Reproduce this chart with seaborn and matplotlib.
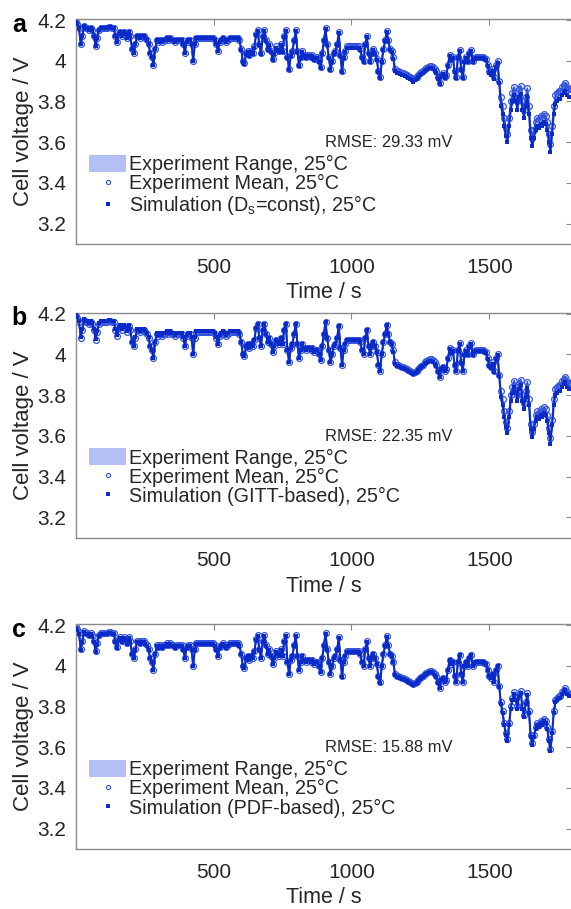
import numpy as np
import pandas as pd
import matplotlib
matplotlib.use("Agg")
import matplotlib.pyplot as plt
from matplotlib.patches import Patch
from matplotlib.lines import Line2D
import seaborn as sns

# ---- data -------------------------------------------------------------
# sample times (s), one sample every 6 s
time_s = list(range(0, 1801, 6))

# mean measured cell voltage (V) at each sample time
v_mean = [
    4.19, 4.18, 4.16, 4.08, 4.12, 4.17, 4.16, 4.16, 4.15, 4.16,   # 0-54
    4.15, 4.12, 4.07, 4.11, 4.15, 4.16, 4.16, 4.16, 4.16, 4.16,   # 60-114
    4.165, 4.165, 4.16, 4.16, 4.12, 4.09, 4.13, 4.14, 4.12, 4.14, # 120-174
    4.13, 4.11, 4.14, 4.12, 4.06, 4.04, 4.08, 4.12, 4.12, 4.11,   # 180-234
    4.12, 4.12, 4.11, 4.10, 4.08, 4.04, 4.02, 3.98, 4.06, 4.10,   # 240-294
    4.09, 4.10, 4.09, 4.10, 4.10, 4.11, 4.10, 4.11, 4.10, 4.10,   # 300-354
    4.09, 4.10, 4.10, 4.10, 4.10, 4.08, 4.04, 4.09, 4.10, 4.10,   # 360-414
    4.08, 4.00, 4.08, 4.11, 4.11, 4.11, 4.11, 4.11, 4.11, 4.11,   # 420-474
    4.11, 4.11, 4.11, 4.11, 4.10, 4.08, 4.05, 4.09, 4.10, 4.11,   # 480-534
    4.10, 4.09, 4.10, 4.11, 4.11, 4.11, 4.11, 4.11, 4.11, 4.10,   # 540-594
    4.06, 4.00, 3.99, 4.04, 4.05, 4.03, 4.05, 4.04, 4.07, 4.13,   # 600-654
    4.15, 4.08, 4.04, 4.12, 4.15, 4.10, 4.06, 4.08, 4.05, 4.01,   # 660-714
    4.04, 4.07, 4.06, 4.05, 4.08, 4.05, 4.12, 4.15, 4.02, 3.96,   # 720-774
    4.03, 4.05, 4.10, 4.15, 4.05, 3.98, 4.02, 4.05, 4.03, 4.02,   # 780-834
    4.03, 4.03, 4.02, 4.03, 4.01, 4.02, 4.02, 4.00, 3.97, 4.04,   # 840-894
    4.10, 4.16, 4.08, 4.02, 3.96, 4.00, 4.04, 4.05, 4.08, 4.14,   # 900-954
    4.03, 3.95, 4.02, 4.05, 4.07, 4.07, 4.07, 4.07, 4.07, 4.07,   # 960-1014
    4.07, 4.07, 4.06, 4.02, 4.00, 4.08, 4.12, 4.04, 4.00, 4.04,   # 1020-1074
    4.06, 4.04, 4.01, 3.95, 3.92, 4.00, 4.06, 4.10, 4.145, 4.10,  # 1080-1134
    4.06, 4.05, 4.02, 3.96, 3.95, 3.95, 3.945, 3.94, 3.94, 3.935, # 1140-1194
    3.93, 3.925, 3.92, 3.915, 3.91, 3.915, 3.92, 3.93, 3.94, 3.945, # 1200-1254
    3.95, 3.96, 3.965, 3.97, 3.975, 3.975, 3.97, 3.96, 3.95, 3.92, # 1260-1314
    3.89, 3.93, 3.94, 3.92, 3.93, 3.98, 4.03, 4.01, 4.02, 3.95,   # 1320-1374
    3.92, 4.02, 4.055, 3.96, 3.92, 4.00, 4.02, 4.00, 4.04, 4.055, # 1380-1434
    4.00, 4.015, 4.02, 4.02, 4.02, 4.02, 4.02, 4.015, 4.01, 3.98, # 1440-1494
    3.95, 3.94, 3.96, 3.92, 3.98, 4.00, 3.90, 3.82, 3.78, 3.72,   # 1500-1554
    3.67, 3.64, 3.72, 3.80, 3.84, 3.87, 3.84, 3.80, 3.86, 3.875,  # 1560-1614
    3.80, 3.76, 3.82, 3.865, 3.78, 3.66, 3.62, 3.66, 3.70, 3.72,  # 1620-1674
    3.71, 3.73, 3.72, 3.74, 3.73, 3.70, 3.64, 3.59, 3.68, 3.78,   # 1680-1734
    3.83, 3.84, 3.85, 3.85, 3.87, 3.88, 3.89, 3.87, 3.86, 3.86,   # 1740-1794
    3.86,                                                         # 1800
]

# half-width of the measured spread (V) within each time window
spread_edges = [0, 600, 1150, 1500, 1801]
spread_half = [0.006, 0.008, 0.007, 0.012]

# simulation offset from the measured mean (V) within each time window
dev_edges = [0, 600, 1150, 1320, 1500, 1540, 1801]
sim_offset = {
    "a": [0.000, -0.005, -0.012, -0.005, -0.010, -0.040],
    "b": [0.003, 0.000, -0.008, -0.003, -0.005, -0.028],
    "c": [-0.003, -0.003, -0.004, 0.000, -0.002, -0.010],
}

panel_letters = ["a", "b", "c"]
sim_labels = [
    r"Simulation (D$_\mathregular{s}$=const), 25°C",
    "Simulation (GITT-based), 25°C",
    "Simulation (PDF-based), 25°C",
]
rmse_labels = ["RMSE: 29.33 mV", "RMSE: 22.35 mV", "RMSE: 15.88 mV"]
range_label = "Experiment Range, 25°C"
mean_label = "Experiment Mean, 25°C"

x_ticks = [500, 1000, 1500]
y_ticks = [3.2, 3.4, 3.6, 3.8, 4.0, 4.2]
y_ticklabels = ["3.2", "3.4", "3.6", "3.8", "4", "4.2"]

# ---- styling ----------------------------------------------------------
sns.set_style("white")
plt.rcParams["font.family"] = ["Liberation Sans", "DejaVu Sans"]
plt.rcParams["mathtext.fontset"] = "custom"
plt.rcParams["mathtext.rm"] = "Liberation Sans"

c_range = "#b4bff3"
c_mean = "#3556dc"
c_sim = "#0b2bc8"
c_axis = "#8a8a8a"
c_text = "#262626"

t = np.asarray(time_s, dtype=float)
vm = np.asarray(v_mean, dtype=float)
spread = np.asarray(spread_half)[np.searchsorted(spread_edges, t, side="right") - 1]
seg = np.searchsorted(dev_edges, t, side="right") - 1

fig = plt.figure(figsize=(5.71, 9.09), dpi=100)
W, H = 571.0, 909.0
left, width, height = 76 / W, 496 / W, 225 / H
tops = [19, 312.6, 624]

for i, letter in enumerate(panel_letters):
    ax = fig.add_axes([left, 1 - (tops[i] + 225) / H, width, height])
    vs = vm + np.asarray(sim_offset[letter])[seg]
    df = pd.DataFrame({"t": t, "mean": vm, "sim": vs})

    ax.fill_between(df["t"], df["mean"] - spread, df["mean"] + spread,
                    color=c_range, lw=0, zorder=1)
    sns.lineplot(data=df, x="t", y="mean", ax=ax, color=c_mean, lw=1.3,
                 marker="o", markersize=4.2, markerfacecolor="none",
                 markeredgecolor=c_mean, markeredgewidth=0.9,
                 estimator=None, sort=False, zorder=2)
    sns.lineplot(data=df, x="t", y="sim", ax=ax, color=c_sim, lw=1.4,
                 marker="s", markersize=2.8, markeredgewidth=0,
                 markerfacecolor=c_sim,
                 estimator=None, sort=False, zorder=3)

    ax.set_xlim(1, 1800)
    ax.set_ylim(3.1, 4.205)
    ax.set_xticks(x_ticks)
    ax.set_xticklabels([str(v) for v in x_ticks])
    ax.set_yticks(y_ticks)
    ax.set_yticklabels(y_ticklabels)
    ax.tick_params(axis="both", direction="in", length=4, width=0.8,
                   color=c_axis, labelsize=15, labelcolor=c_text,
                   top=True, right=True)
    ax.tick_params(axis="x", pad=10)
    ax.tick_params(axis="y", pad=7)
    for sp in ax.spines.values():
        sp.set_visible(True)
        sp.set_color(c_axis)
        sp.set_linewidth(1.0)

    ax.set_xlabel("Time / s", fontsize=15.5, color=c_text, labelpad=4)
    ax.set_ylabel("Cell voltage / V", fontsize=16, color=c_text, labelpad=2)

    ax.text(-0.115, 0.975, letter, transform=ax.transAxes, fontsize=18,
            fontweight="bold", ha="center", va="center", color="black")
    ax.text(0.502, 0.45, rmse_labels[i], transform=ax.transAxes,
            fontsize=11.9, ha="left", va="center", color=c_text)

    handles = [
        Patch(facecolor=c_range, edgecolor="none"),
        Line2D([], [], ls="none", marker="o", markersize=3.0,
               markerfacecolor="none", markeredgecolor=c_mean,
               markeredgewidth=0.8),
        Line2D([], [], ls="none", marker="s", markersize=2.2,
               markerfacecolor=c_sim, markeredgewidth=0),
    ]
    ax.legend(handles, [range_label, mean_label, sim_labels[i]],
              loc="upper left", bbox_to_anchor=(0.026, 0.397),
              frameon=False, fontsize=14.2, handlelength=1.9,
              handleheight=0.95, handletextpad=0.12, labelspacing=0.0,
              borderpad=0, borderaxespad=0, labelcolor=c_text)

fig.savefig("out.png", dpi=100)
